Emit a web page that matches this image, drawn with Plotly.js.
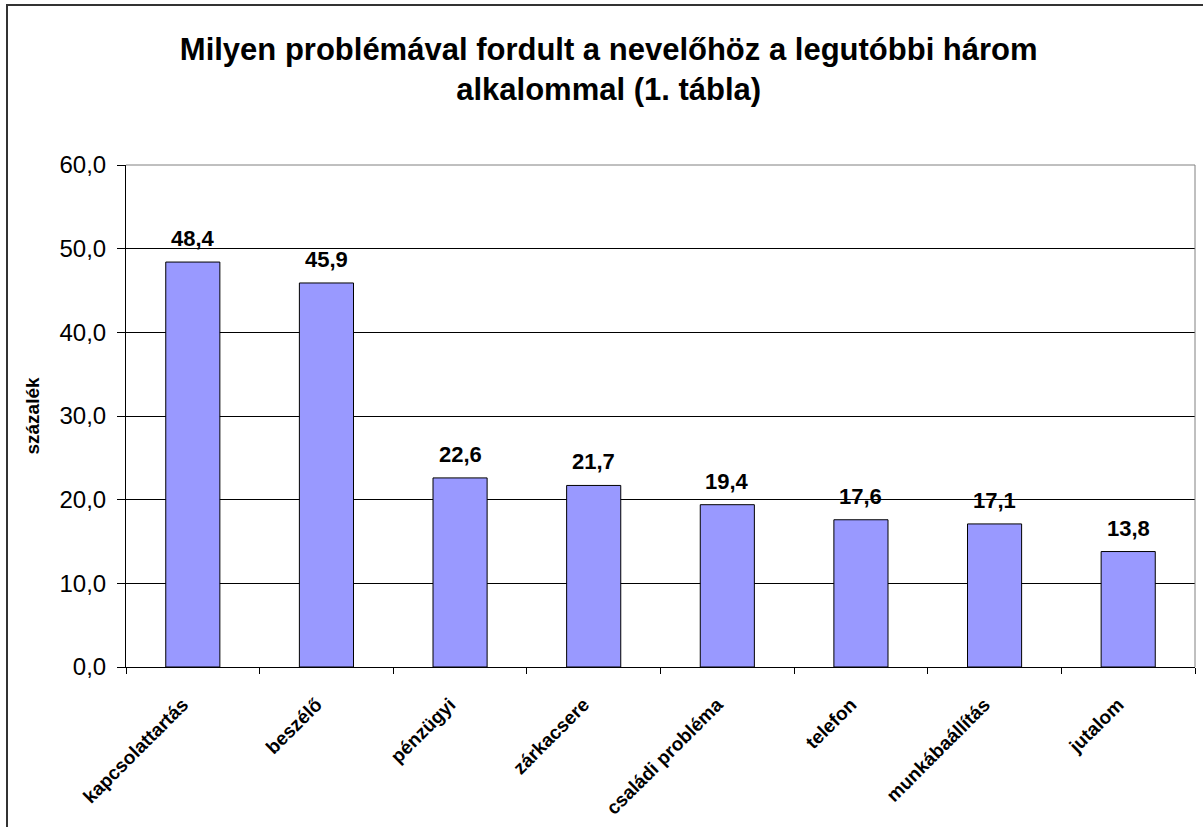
<!DOCTYPE html>
<html>
<head>
<meta charset="utf-8">
<script src="https://cdn.plot.ly/plotly-3.0.1.min.js"></script>
<style>
html,body{margin:0;padding:0;overflow:hidden;background:#fff;}
#frame{position:absolute;left:6px;top:4px;width:1300px;height:900px;border:2px solid #333;box-sizing:border-box;pointer-events:none;z-index:10;}
#chart{position:absolute;left:0;top:0;width:1203px;height:827px;}
</style>
</head>
<body>
<div id="chart"></div>
<div id="frame"></div>
<script>
const categories = ["kapcsolattartás","beszélő","pénzügyi","zárkacsere","családi probléma","telefon","munkábaállítás","jutalom"];
const values = [48.4, 45.9, 22.6, 21.7, 19.4, 17.6, 17.1, 13.8];
const labels = values.map(v => v.toFixed(1).replace('.', ','));
const yTicks = [0,10,20,30,40,50,60];
const yTickText = yTicks.map(v => v.toFixed(1).replace('.', ','));

const font = "Liberation Sans, Arial, sans-serif";

const trace = {
  type: 'bar',
  x: categories,
  y: values,
  marker: {color: '#9999FF', line: {color: '#000', width: 1}},
  hoverinfo: 'none'
};

const annotations = categories.map((c, i) => ({
  x: c, y: values[i], xref: 'x', yref: 'y',
  text: '<b>' + labels[i] + '</b>',
  showarrow: false, yanchor: 'bottom', xanchor: 'center', yshift: 9,
  font: {family: font, size: 22, color: '#000'}
}));

const layout = {
  width: 1203, height: 827,
  margin: {l: 126, r: 8, t: 165, b: 160},
  paper_bgcolor: '#fff', plot_bgcolor: '#fff',
  showlegend: false,
  bargap: 0.595,
  title: {
    text: '<b>Milyen problémával fordult a nevelőhöz a legutóbbi három<br>alkalommal (1. tábla)</b>',
    font: {family: font, size: 31, color: '#000'},
    x: 0.506, xref: 'container', y: 0.928, yref: 'container', xanchor: 'center', yanchor: 'top'
  },
  xaxis: {
    type: 'category',
    tickangle: -45,
    tickfont: {family: font, size: 19, color: '#000'},
    ticks: 'outside', tickson: 'boundaries', ticklen: 6, tickcolor: '#000',
    ticklabelstandoff: 18, ticklabelshift: -10,
    showline: true, linecolor: '#000', linewidth: 1,
    showgrid: false, zeroline: false,
    tickprefix: '<b>', ticksuffix: '</b>'
  },
  yaxis: {
    range: [0, 60],
    tickvals: yTicks, ticktext: yTickText,
    tickfont: {family: font, size: 24, color: '#000'},
    ticks: 'outside', ticklen: 8, tickcolor: '#000',
    ticklabelstandoff: 6,
    showline: true, linecolor: '#000', linewidth: 1,
    showgrid: true, gridcolor: '#000', gridwidth: 1,
    zeroline: false,
    title: {text: '<b>százalék</b>', font: {family: font, size: 19, color: '#000'}, standoff: 14}
  },
  annotations: annotations,
  shapes: [
    {type: 'line', xref: 'paper', yref: 'paper', x0: 0, x1: 1, y0: 1, y1: 1, line: {color: '#808080', width: 1}},
    {type: 'line', xref: 'paper', yref: 'paper', x0: 1, x1: 1, y0: 0, y1: 1, line: {color: '#808080', width: 1}}
  ]
};

Plotly.newPlot('chart', [trace], layout, {displayModeBar: false, staticPlot: true});
</script>
</body>
</html>
